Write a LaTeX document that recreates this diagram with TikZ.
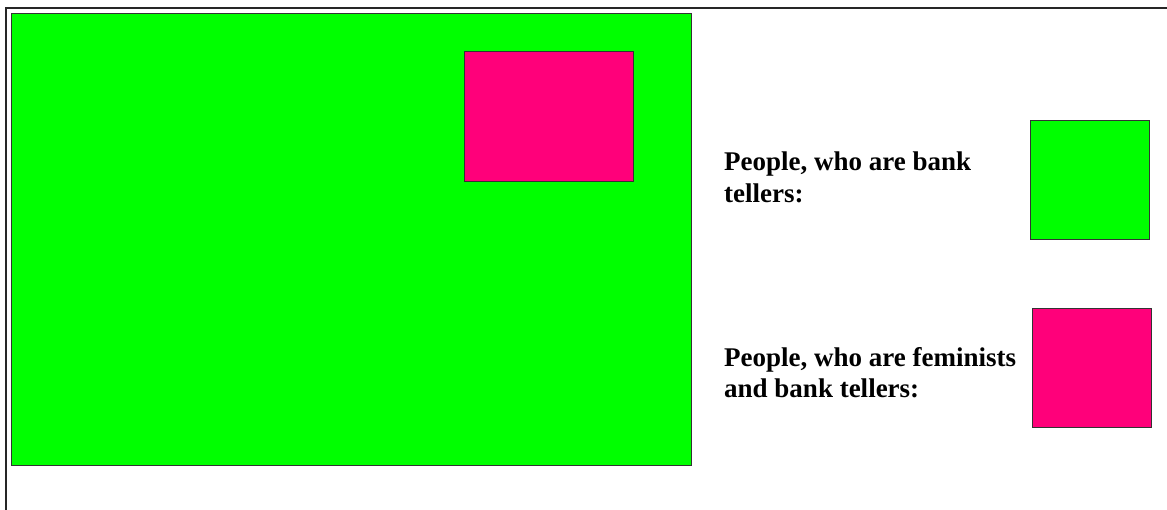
\documentclass[tikz,border=0pt]{standalone}
\usepackage{fontspec}
\setmainfont{Liberation Serif}
\usepackage{xcolor}
\usetikzlibrary{positioning}
\definecolor{setgreen}{RGB}{0, 255, 0}
\definecolor{setpink}{RGB}{255, 0, 122}

\begin{document}
\begin{tikzpicture}[
  x=1pt, y=-1pt,
  setbox/.style={rectangle, draw=black!80, line width=1.4pt, inner sep=0pt, anchor=north west},
  legend/.style={font=\fontsize{27}{32}\selectfont\bfseries, align=left, inner sep=0pt, anchor=base west},
  frame/.style={black!85, line width=1.8pt}
]
\useasboundingbox (0,0) rectangle (1167,510);
% outer frame
\draw[frame] (6,510) -- (6,8) -- (1167,8);

% sets
\node[setbox, fill=setgreen, minimum width=680pt, minimum height=452pt] (tellers) at (11,13) {};
\node[setbox, fill=setpink, minimum width=169pt, minimum height=130pt] (both) at (464,51) {};

% legend
\node[legend] (lbltellers) at (724,203) {People, who are bank\\tellers:};
\node[setbox, fill=setgreen, minimum width=119pt, minimum height=119pt] (keytellers) at (1030,120) {};
\node[legend] (lblboth) at (724,398) {People, who are feminists\\and bank tellers:};
\node[setbox, fill=setpink, minimum width=119pt, minimum height=119pt] (keyboth) at (1032,308) {};
\end{tikzpicture}
\end{document}
